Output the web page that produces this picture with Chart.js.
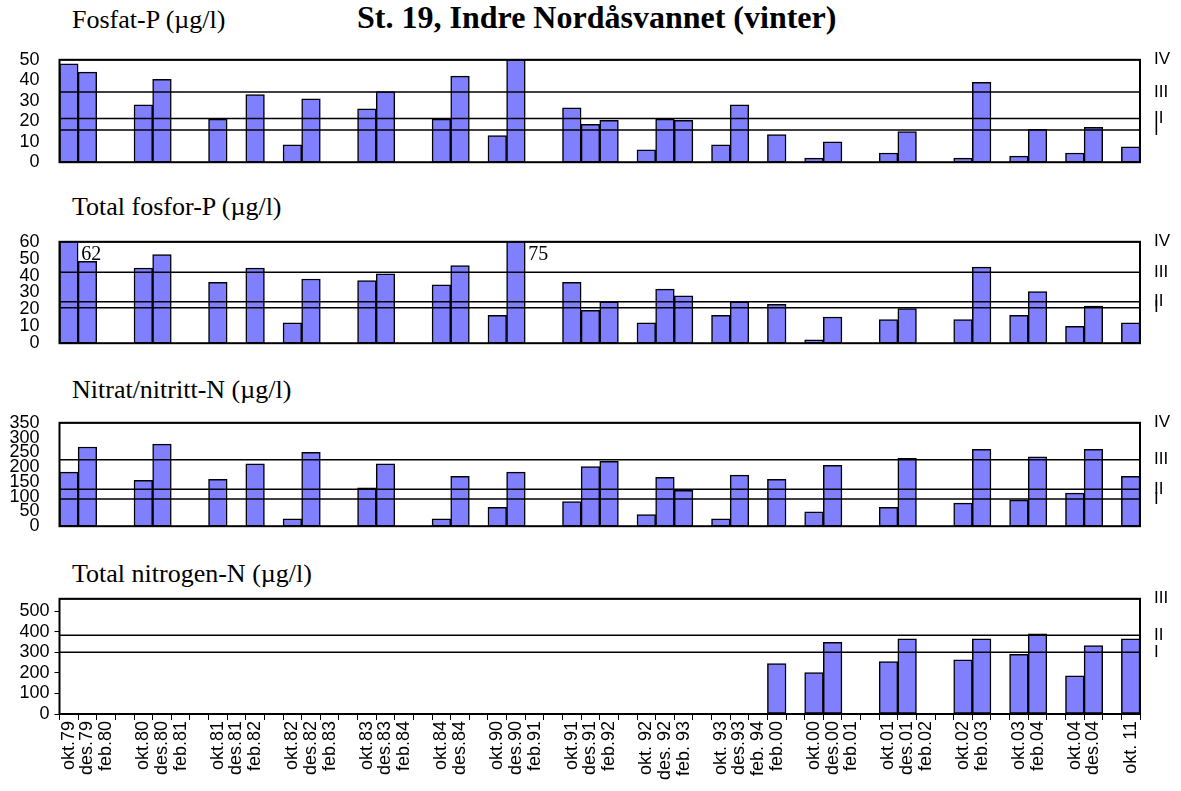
<!DOCTYPE html>
<html>
<head>
<meta charset="utf-8">
<script src="https://cdn.jsdelivr.net/npm/chart.js@4.4.0/dist/chart.umd.min.js"></script>
<style>
  body { margin: 0; background: #fff; width: 1181px; height: 791px; position: relative; overflow: hidden; }
  canvas { position: absolute; left: 0; }
  .txt { position: absolute; font-family: "Liberation Serif", "Times New Roman", serif; color: #000; white-space: nowrap; line-height: 1; }
</style>
</head>
<body>
<div class="txt" style="left:357px; top:1px; font-size:32px; font-weight:bold;">St. 19, Indre Nordåsvannet (vinter)</div>
<div class="txt" style="left:72px; top:7px; font-size:26px;">Fosfat-P (µg/l)</div>
<div class="txt" style="left:72px; top:194px; font-size:26px;">Total fosfor-P (µg/l)</div>
<div class="txt" style="left:72px; top:377px; font-size:26px;">Nitrat/nitritt-N (µg/l)</div>
<div class="txt" style="left:72px; top:561px; font-size:26px;">Total nitrogen-N (µg/l)</div>

<canvas id="c1" width="1181" height="148" style="top:37px"></canvas>
<canvas id="c2" width="1181" height="147" style="top:219px"></canvas>
<canvas id="c3" width="1181" height="149" style="top:400px"></canvas>
<canvas id="c4" width="1181" height="208" style="top:583px"></canvas>

<script>
const labels = [
  'okt.79', 'des.79', 'feb.80', '',
  'okt.80', 'des.80', 'feb.81', '',
  'okt.81', 'des.81', 'feb.82', '',
  'okt.82', 'des.82', 'feb.83', '',
  'okt.83', 'des.83', 'feb.84', '',
  'okt.84', 'des.84', '',
  'okt.90', 'des.90', 'feb.91', '',
  'okt.91', 'des.91', 'feb.92', '',
  'okt. 92', 'des. 92', 'feb. 93', '',
  'okt. 93', 'des.93', 'feb. 94', 'feb.00', '',
  'okt.00', 'des.00', 'feb.01', '',
  'okt.01', 'des.01', 'feb.02', '',
  'okt.02', 'feb.03', '',
  'okt.03', 'feb.04', '',
  'okt.04', 'des.04', '',
  'okt. 11'
];

const fosfat = [
  48, 44, null, null,
  28, 40.5, null, null,
  21, null, 33, null,
  8.5, 31, null, null,
  26, 34.5, null, null,
  21, 42, null,
  13, 50, null, null,
  26.5, 18.5, 20.5, null,
  6, 21, 20.5, null,
  8.5, 28, null, 13.5, null,
  2, 10, null, null,
  4.5, 15, null, null,
  2, 39, null,
  3, 16, null,
  4.5, 17, null,
  7.5
];

const totFosfor = [
  62, 48.5, null, null,
  44.5, 52.5, null, null,
  36, null, 44.5, null,
  12, 38, null, null,
  37, 41, null, null,
  34.5, 46, null,
  16.5, 75, null, null,
  36, 19.5, 24.5, null,
  12, 32, 28, null,
  16.5, 24.5, null, 23, null,
  2, 15.5, null, null,
  14, 20.5, null, null,
  14, 45, null,
  16.5, 30.5, null,
  10, 22, null,
  12
];

const nitrat = [
  183, 268, null, null,
  155, 278, null, null,
  159, null, 211, null,
  25, 250, null, null,
  130, 211, null, null,
  25, 169, null,
  64, 183, null, null,
  83, 202, 220, null,
  39, 165, 121, null,
  25, 173, null, 159, null,
  49, 206, null, null,
  64, 230, null, null,
  78, 260, null,
  88, 235, null,
  112, 260, null,
  169
];

const totNitrogen = [
  null, null, null, null,
  null, null, null, null,
  null, null, null, null,
  null, null, null, null,
  null, null, null, null,
  null, null, null,
  null, null, null, null,
  null, null, null, null,
  null, null, null, null,
  null, null, null, 245, null,
  201, 348, null, null,
  255, 365, null, null,
  263, 365, null,
  290, 390, null,
  185, 332, null,
  365
];

// klassegrenser
const fosfatLimits = [15.7, 21.3, 34.3, 50];
const fosforLimits = [21, 24.5, 42, 60];
const nitratLimits = [92, 125, 225, 350];
const nitrogenLimits = [300, 383, 560];
const classNames4 = ['I', 'II', 'III', 'IV'];
const classNames3 = ['I', 'II', 'III'];

const classLines = {
  id: 'classLines',
  afterDatasetsDraw(chart, args, opts) {
    const ctx = chart.ctx;
    const a = chart.chartArea;
    const y = chart.scales.y;
    ctx.save();
    ctx.strokeStyle = '#000';
    ctx.fillStyle = '#000';
    ctx.lineWidth = 1.5;
    ctx.font = '17px "Liberation Sans", Arial, sans-serif';
    ctx.textBaseline = 'middle';
    opts.values.forEach(function (v, i) {
      const py = y.getPixelForValue(v);
      ctx.beginPath();
      ctx.moveTo(a.left, py);
      ctx.lineTo(a.right, py);
      ctx.stroke();
      ctx.fillText(opts.names[i], a.right + 14, py);
    });
    ctx.lineWidth = 2;
    ctx.strokeRect(a.left, a.top, a.right - a.left, a.bottom - a.top);

    // verdier over skalaen
    const meta = chart.getDatasetMeta(0);
    ctx.font = '20px "Liberation Serif", serif';
    ctx.textBaseline = 'top';
    chart.data.datasets[0].data.forEach(function (v, i) {
      if (v !== null && v > y.max) {
        const bar = meta.data[i];
        ctx.fillText(String(v), bar.x + bar.width / 2 + 3, a.top + 3);
      }
    });
    ctx.restore();
  }
};

function makeChart(id, data, yMax, step, limits, names, bottom) {
  const xScale = bottom ? {
    offset: true,
    grid: { display: true, drawOnChartArea: false, drawTicks: true, tickLength: 6, color: '#000', offset: true },
    border: { display: false },
    ticks: {
      autoSkip: false, maxRotation: 90, minRotation: 90, padding: 1, color: '#000',
      font: { family: '"Liberation Sans", Arial, sans-serif', size: 18 }
    },
    afterFit(s) { s.height = 77; s.paddingLeft = 0; s.paddingRight = 0; }
  } : {
    offset: true,
    grid: { display: false },
    border: { display: false },
    ticks: { display: false },
    afterFit(s) { s.height = 10; s.paddingLeft = 0; s.paddingRight = 0; }
  };

  return new Chart(document.getElementById(id), {
    type: 'bar',
    data: {
      labels: labels,
      datasets: [{
        data: data,
        backgroundColor: '#8080ff',
        borderColor: '#000',
        borderWidth: 1.5,
        borderSkipped: false,
        categoryPercentage: 1,
        barPercentage: 1
      }]
    },
    options: {
      responsive: false,
      animation: false,
      devicePixelRatio: 1,
      layout: { padding: { left: 0, right: 41, top: 10, bottom: 0 } },
      plugins: {
        legend: { display: false },
        tooltip: { enabled: false },
        classLines: { values: limits, names: names }
      },
      scales: {
        x: xScale,
        y: {
          min: 0,
          max: yMax,
          grid: bottom
            ? { display: true, drawOnChartArea: false, drawTicks: true, tickLength: 5, color: '#000' }
            : { display: false },
          border: { display: false },
          ticks: {
            stepSize: step, autoSkip: false, includeBounds: false, color: '#000', padding: bottom ? 5 : 12,
            font: { family: '"Liberation Sans", Arial, sans-serif', size: 18 }
          },
          afterBuildTicks(s) { s.ticks = s.ticks.filter(t => t.value % step === 0); },
          afterFit(s) { s.width = 59.5; }
        }
      }
    },
    plugins: [classLines]
  });
}

makeChart('c1', fosfat, 50, 10, fosfatLimits, classNames4, false);
makeChart('c2', totFosfor, 60, 10, fosforLimits, classNames4, false);
makeChart('c3', nitrat, 350, 50, nitratLimits, classNames4, false);
makeChart('c4', totNitrogen, 560, 100, nitrogenLimits, classNames3, true);
</script>
</body>
</html>
